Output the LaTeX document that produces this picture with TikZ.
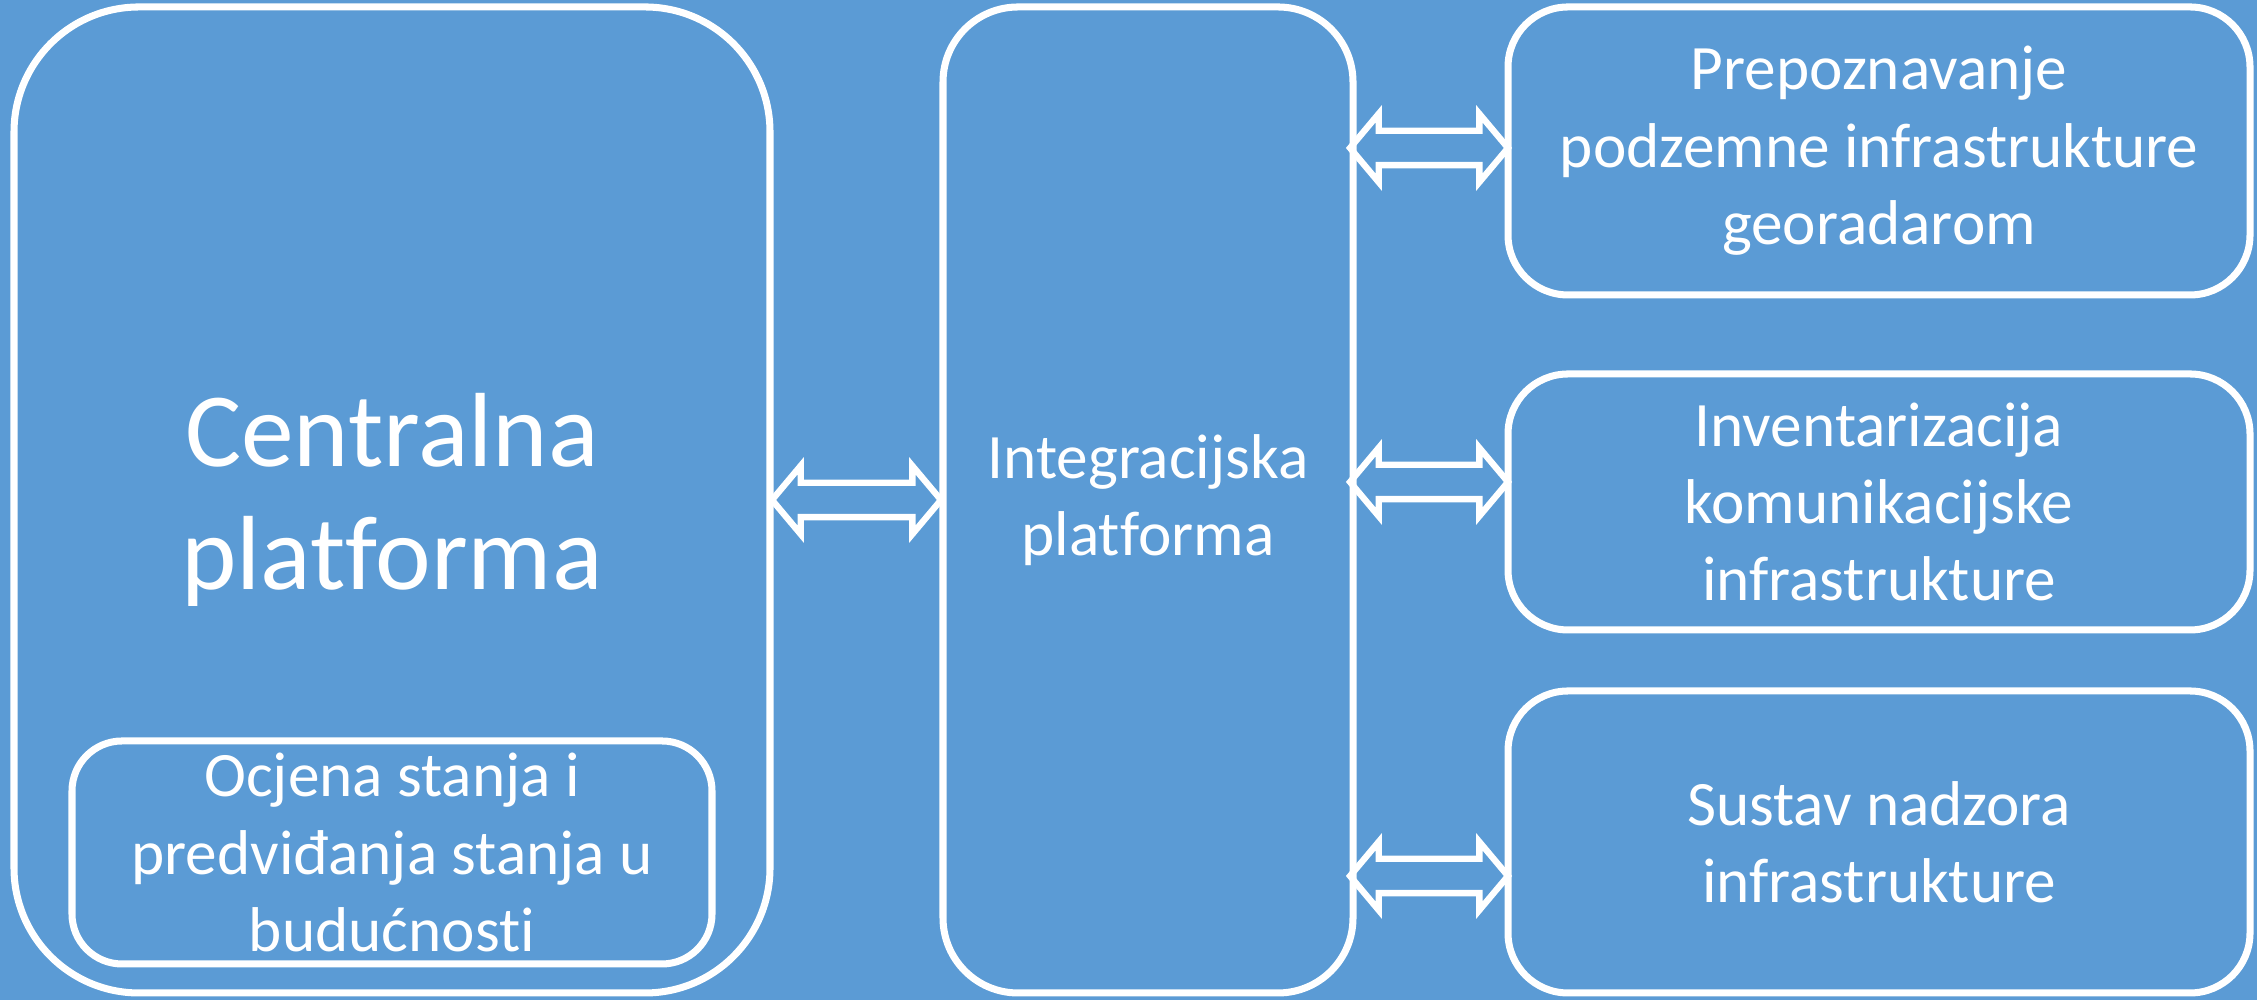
\documentclass[tikz,border=0pt]{standalone}
\usepackage{fontspec}
\setmainfont{Carlito}[Ligatures=NoCommon]
\usetikzlibrary{shapes.arrows,calc}
\definecolor{bgblue}{RGB}{91,155,213}
\begin{document}
\begin{tikzpicture}
    \tikzstyle{box}=[draw=white, line width=2pt, text=white, align=center, font=\fontsize{18}{22}\selectfont]
    \tikzstyle{dblarrow}=[double arrow, draw=white, line width=1.8pt, inner xsep=0pt, inner ysep=0.14cm, minimum width=0pt, double arrow head extend=0.17cm, double arrow tip angle=100]
    \fill[bgblue] (0,0) rectangle (22.57,10);
    \node[box, rounded corners=1.25cm, minimum width=7.56cm, minimum height=9.86cm, font=\fontsize{30}{35}\selectfont] (cp) at (3.92,5.00) {Centralna\\platforma};
    \node[box, rounded corners=0.5cm, minimum width=6.40cm, minimum height=2.23cm] (oc) at (3.92,1.475) {Ocjena stanja i\\predviđanja stanja u\\budućnosti};
    \node[box, rounded corners=0.75cm, minimum width=4.10cm, minimum height=9.86cm] (ip) at (11.48,5.00) {Integracijska\\platforma};
    \node[box, rounded corners=0.6cm, minimum width=7.42cm, minimum height=2.88cm] (r1) at (18.79,8.49) {Prepoznavanje\\podzemne infrastrukture\\georadarom};
    \node[box, rounded corners=0.6cm, minimum width=7.42cm, minimum height=2.56cm] (r2) at (18.79,4.98) {Inventarizacija\\komunikacijske\\infrastrukture};
    \node[box, rounded corners=0.6cm, minimum width=7.42cm, minimum height=3.02cm] (r3) at (18.79,1.58) {Sustav nadzora\\infrastrukture};
    \node[dblarrow, minimum height=1.69cm] (a0) at ($(cp.east)!0.5!(ip.west)$) {};
    \node[dblarrow, minimum height=1.58cm] (a1) at (14.29,8.52) {};
    \node[dblarrow, minimum height=1.58cm] (a2) at (14.29,5.18) {};
    \node[dblarrow, minimum height=1.58cm] (a3) at (14.29,1.24) {};
    %\draw (ip) -- (r1);
\end{tikzpicture}
\end{document}
